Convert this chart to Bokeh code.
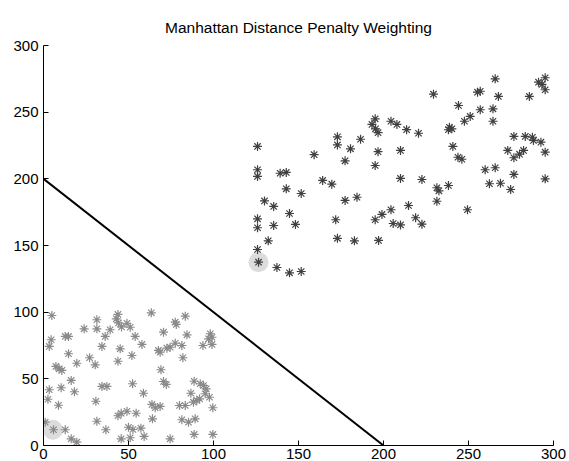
from bokeh.plotting import figure
from bokeh.embed import file_html
from bokeh.resources import INLINE
from bokeh.models import Range1d, FixedTicker

title_text = "Manhattan Distance Penalty Weighting"
x_ticks = [0, 50, 100, 150, 200, 250, 300]
y_ticks = [0, 50, 100, 150, 200, 250, 300]

lower_x = [4.9, 31.4, 43.8, 42.8, 44.1, 45.9, 23.9, 31.4, 39.2, 36.3,
           12.8, 14.7, 4.5, 3.4, 34.4, 45.1, 14.7, 27.1, 30.4, 19.6,
           7.3, 9.2, 10.8, 43.8, 16.3, 3.4, 10.4, 18.2, 34.4, 37.3,
           2.6, 8.8, 30.8, 43.8, 45.7, 1.0, 5.9, 12.8, 31.4, 36.7,
           16.3, 19.6, 45.7, 63.4, 83.4, 77.5, 78.1, 49.1, 51.0, 70.6,
           84.4, 53.9, 57.9, 98.1, 99.1, 97.1, 93.8, 99.1, 67.6, 68.6,
           72.6, 74.5, 77.5, 81.4, 52.0, 82.0, 69.1, 52.4, 70.6, 72.2,
           88.6, 92.2, 94.1, 95.7, 95.1, 86.7, 97.6, 91.8, 90.2, 88.2,
           58.8, 63.8, 65.7, 68.6, 80.0, 83.4, 99.6, 49.1, 54.5, 64.1,
           81.4, 85.3, 89.2, 50.0, 52.6, 57.3, 59.2, 88.6, 99.6, 51.0,
           74.5]
lower_y = [97.5, 94.3, 98.3, 95.0, 91.9, 88.9, 87.5, 87.5, 86.8, 81.8,
           81.8, 81.8, 79.3, 74.3, 74.3, 72.5, 68.8, 65.8, 60.5, 61.7,
           59.3, 57.5, 56.3, 63.2, 48.8, 41.8, 43.3, 40.3, 44.3, 44.3,
           34.7, 30.2, 33.2, 22.3, 24.2, 17.5, 11.8, 11.8, 18.2, 11.8,
           5.0, 2.5, 5.0, 99.5, 97.0, 92.5, 90.8, 91.7, 88.7, 85.0,
           83.0, 81.8, 75.8, 83.8, 81.2, 80.0, 75.0, 75.8, 71.3, 70.0,
           73.0, 73.7, 76.7, 75.0, 67.5, 65.8, 56.8, 46.3, 48.0, 45.8,
           48.2, 46.3, 45.0, 42.5, 38.8, 39.2, 36.2, 35.0, 33.8, 32.5,
           39.2, 30.8, 28.3, 29.3, 30.0, 30.0, 28.3, 25.7, 24.2, 20.0,
           19.3, 17.5, 20.0, 13.7, 12.0, 13.0, 6.8, 8.3, 8.3, 5.8,
           5.0]

upper_x = [125.9, 125.9, 125.9, 139.2, 142.8, 142.8, 151.6, 130.0, 135.4, 144.7,
           125.9, 125.9, 135.4, 148.2, 132.2, 125.9, 126.5, 137.3, 144.7, 151.6,
           159.2, 172.9, 172.9, 180.6, 186.5, 177.4, 164.2, 169.6, 177.4, 184.4,
           171.9, 172.9, 182.9, 195.1, 193.2, 195.3, 196.8, 196.8, 195.1, 195.1,
           197.1, 229.4, 244.1, 204.4, 207.9, 213.6, 220.6, 238.8, 240.2, 238.2,
           210.0, 240.8, 243.8, 246.1, 210.0, 222.6, 265.7, 295.1, 291.2, 293.2,
           295.1, 255.3, 256.9, 267.6, 285.8, 256.9, 264.4, 251.0, 247.6, 264.4,
           276.7, 283.4, 287.6, 288.2, 292.6, 295.1, 273.1, 276.7, 280.0, 282.4,
           259.8, 265.7, 276.7, 295.1, 262.3, 268.8, 274.8, 231.4, 232.6, 238.2,
           231.4, 249.4, 214.7, 204.4, 199.1, 218.9, 222.6, 205.7, 210.0]
upper_y = [224.3, 206.8, 201.8, 204.2, 204.8, 192.5, 189.0, 183.4, 179.3, 174.0,
           170.0, 163.3, 165.0, 165.8, 153.5, 147.0, 137.5, 133.5, 129.5, 130.5,
           218.1, 231.5, 225.4, 222.5, 229.7, 213.5, 198.8, 196.0, 183.8, 186.2,
           169.3, 155.4, 153.5, 245.0, 240.8, 237.5, 234.6, 220.4, 210.0, 169.3,
           153.8, 263.5, 255.0, 243.2, 240.8, 236.9, 234.2, 238.7, 237.5, 236.8,
           221.3, 224.3, 216.2, 214.7, 200.3, 199.5, 275.0, 275.8, 272.5, 270.8,
           266.8, 265.0, 265.7, 261.8, 261.8, 251.8, 252.5, 246.8, 243.2, 243.2,
           231.8, 231.8, 231.2, 228.8, 227.5, 220.0, 221.3, 215.8, 218.5, 221.3,
           206.8, 208.3, 203.3, 200.0, 196.3, 196.7, 192.0, 193.3, 191.0, 195.0,
           183.2, 176.8, 180.0, 176.8, 173.3, 170.8, 166.0, 166.5, 165.4]

highlight_x = [5.5, 126.5]
highlight_y = [11.8, 137.5]

boundary_x = [0, 200]
boundary_y = [200, 0]

FONT = "Liberation Sans"

p = figure(width=569, height=461, output_backend="svg", toolbar_location=None,
           x_range=Range1d(0, 300), y_range=Range1d(0, 300),
           min_border_left=43, min_border_right=16, min_border_top=45,
           min_border_bottom=16, title=title_text)

p.title.text_font = FONT
p.title.text_font_size = "15.5px"
p.title.text_font_style = "normal"
p.title.align = "center"
p.title.text_color = "#000000"
p.title.standoff = 20

p.outline_line_color = None
p.xgrid.visible = False
p.ygrid.visible = False
p.background_fill_color = "white"
p.border_fill_color = "white"

for ax, ticks in ((p.xaxis, x_ticks), (p.yaxis, y_ticks)):
    ax.ticker = FixedTicker(ticks=ticks)
    ax.major_tick_in = 5
    ax.major_tick_out = 0
    ax.minor_tick_line_color = None
    ax.axis_line_color = "black"
    ax.major_tick_line_color = "black"
    ax.major_label_text_font = FONT
    ax.major_label_text_font_size = "15px"
    ax.major_label_text_color = "black"
p.xaxis.major_label_standoff = 3
p.yaxis.major_label_standoff = 5

p.scatter(highlight_x, highlight_y, marker="circle", size=20,
          fill_color="#dcdcdc", line_color=None)
p.line(boundary_x, boundary_y, line_color="black", line_width=2)
p.scatter(lower_x, lower_y, marker="asterisk", size=9,
          line_color="#8a8a8a", line_width=1.2)
p.scatter(upper_x, upper_y, marker="asterisk", size=9,
          line_color="#404040", line_width=1.2)

open("out.html", "w").write(file_html(p, INLINE))
